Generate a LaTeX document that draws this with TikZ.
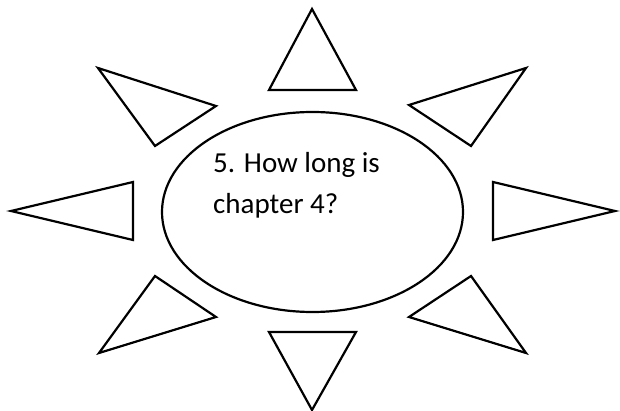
\documentclass[tikz,border=0pt]{standalone}
\usepackage{fontspec}
\setmainfont{Carlito}
\begin{document}
\begin{tikzpicture}[x=1pt,y=-1pt,
  ray/.style={draw=black,line width=2.2pt,line join=miter},
  sun/.style={draw=black,line width=2.2pt},
  lbl/.style={font=\fontsize{29}{41}\selectfont,align=left,anchor=north west,inner sep=0pt,text depth=0pt}]
\useasboundingbox (0,0) rectangle (620,411);
\fill[white] (0,0) rectangle (620,411);
\draw[sun] (312.5,212) ellipse [x radius=150.5, y radius=100];
\node[lbl] (q) at (213,152) {5. How long is\\chapter 4?};
% rays
\draw[ray] (312,9) -- (356,90) -- (269,90) -- cycle;
\draw[ray] (269,332) -- (356,332) -- (312,410) -- cycle;
\draw[ray] (11,211) -- (133,182) -- (133,240) -- cycle;
\draw[ray] (493,182) -- (615,211) -- (493,240) -- cycle;
\draw[ray] (98,68) -- (216,106) -- (155,146) -- cycle;
\draw[ray] (526,68) -- (409,105) -- (471,146) -- cycle;
\draw[ray] (155,276) -- (216,317) -- (99,353) -- cycle;
\draw[ray] (471,276) -- (409,317) -- (526,353) -- cycle;
\end{tikzpicture}
\end{document}
